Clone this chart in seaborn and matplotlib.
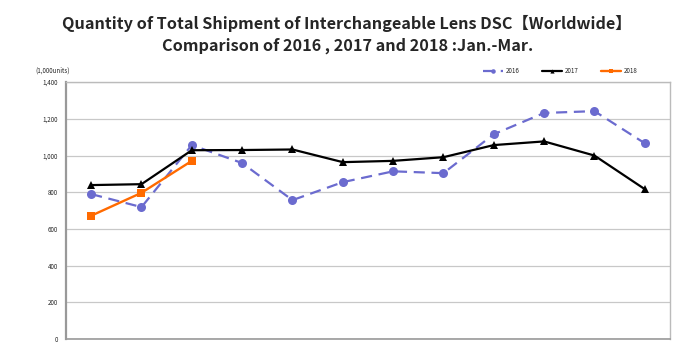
import pandas as pd
import seaborn as sns
import matplotlib.pyplot as plt

# 数据（单位：千台）
months = ['Jan', 'Feb', 'Mar', 'Apr', 'May', 'Jun',
          'Jul', 'Aug', 'Sep', 'Oct', 'Nov', 'Dec']
y2016 = [790, 719, 1057, 959, 757, 855, 914, 904, 1116, 1232, 1242, 1067]
y2017 = [839, 844, 1029, 1030, 1033, 964, 971, 991, 1057, 1077, 1000, 817]
y2018 = [672, 797, 971]

sns.set_style('white')
plt.rcParams['font.family'] = ['Noto Sans CJK JP', 'DejaVu Sans']

fig = plt.figure(figsize=(7, 3.51), dpi=100)
ax = fig.add_axes([0.0943, 0.034, 0.8627, 0.732])

d16 = pd.DataFrame({'month': months, 'v': y2016})
d17 = pd.DataFrame({'month': months, 'v': y2017})
d18 = pd.DataFrame({'month': months[:3], 'v': y2018})

sns.lineplot(x='month', y='v', data=d16, ax=ax, color='#6B6BCF', lw=1.6,
             marker='o', markersize=6.5, markeredgewidth=0, dashes=False,
             linestyle=(0, (5, 3)), label='2016', sort=False)
sns.lineplot(x='month', y='v', data=d17, ax=ax, color='black', lw=1.6,
             marker='^', markersize=6, markeredgewidth=0,
             label='2017', sort=False)
sns.lineplot(x='month', y='v', data=d18, ax=ax, color='#FF6A00', lw=1.7,
             marker='s', markersize=6, markeredgewidth=0,
             label='2018', sort=False)

ax.set_xlim(-0.5, 11.5)
ax.set_ylim(0, 1400)
ax.set_yticks(range(0, 1401, 200))
ax.set_yticklabels([f'{v:,}' for v in range(0, 1401, 200)], fontsize=4.5)
ax.set_xticks([])
ax.set_xlabel('')
ax.set_ylabel('')
ax.tick_params(axis='y', length=2, width=0.6, color='#888888', pad=4)
ax.yaxis.grid(True, color='#C8C8C8', lw=0.9)

for s in ax.spines.values():
    s.set_color('#BBBBBB')
    s.set_linewidth(1.0)
ax.spines['left'].set_color('#999999')
ax.spines['left'].set_linewidth(1.6)
ax.spines['bottom'].set_color('#999999')
ax.spines['bottom'].set_linewidth(1.2)

ax.legend(loc='lower right', bbox_to_anchor=(0.955, 1.005), ncol=3,
          frameon=False, fontsize=4.5, handlelength=3.2, columnspacing=3.6,
          handletextpad=0.4, markerscale=0.5)

fig.text(0.05, 0.80, '(1,000units)', fontsize=4.5, ha='left', va='center')
fig.text(0.496, 0.932, 'Quantity of Total Shipment of Interchangeable Lens DSC【Worldwide】',
         fontsize=11.7, fontweight='bold', ha='center', va='center')
fig.text(0.496, 0.870, 'Comparison of 2016 , 2017 and 2018 :Jan.-Mar.',
         fontsize=11.7, fontweight='bold', ha='center', va='center')

fig.savefig('out.png', dpi=100)
